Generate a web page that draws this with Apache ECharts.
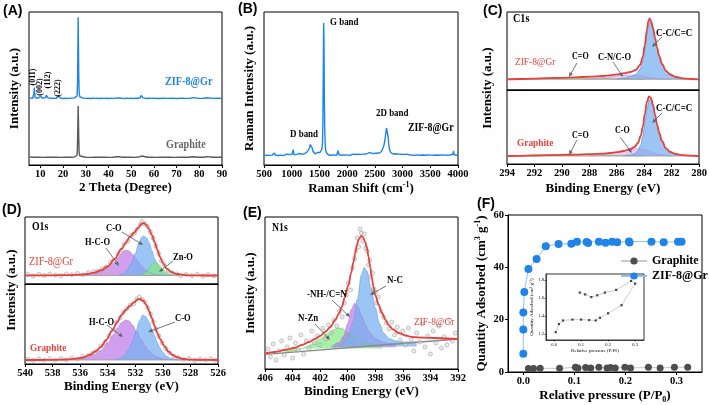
<!DOCTYPE html>
<html><head><meta charset="utf-8">
<script src="https://cdn.jsdelivr.net/npm/echarts@6/dist/echarts.min.js"></script>
<style>html,body{margin:0;padding:0;background:#fff}#c{width:709px;height:405px}</style>
</head><body><div id="c"></div><script>
// ---------------- DATA ----------------
// (A) XRD, intensity in arbitrary units
const aTicks = [10,20,30,40,50,60,70,80,90];
const aZif = [[5.5,66.8],[6,66.5],[6.6,66.7],[7.0,67.5],[7.2,72],[7.35,77.5],[7.5,72],[7.7,67.3],[8.2,66.6],[9,66.8],[9.8,67.2],[10.1,68.8],[10.4,67.5],[10.9,66.7],[11.6,66.9],[12.3,67.4],[12.6,70],[12.8,71.2],[13.0,69.5],[13.3,67.2],[14,66.8],[15,66.6],[16,66.9],[17,66.6],[17.7,67.3],[18.0,69],[18.3,67.4],[19,66.8],[20,66.5],[21,66.8],[22,66.6],[23,66.7],[24,66.9],[25,67.1],[25.8,67.6],[26.2,69],[26.4,85],[26.55,120],[26.65,147.7],[26.75,125],[26.9,92],[27.1,72],[27.4,68],[28,67.2],[29,66.9],[30,66.6],[31,66.7],[32,66.5],[33,66.8],[34,66.6],[35,66.7],[36,66.5],[37,66.8],[38,66.6],[39,66.7],[40,66.5],[41,66.8],[42,66.6],[43,66.7],[44,67.1],[44.5,68.2],[45,67],[46,66.7],[47,66.5],[48,66.7],[49,66.6],[50,66.8],[51,66.5],[52,66.7],[53,66.8],[54,67.2],[54.4,69.5],[54.6,71],[54.8,69],[55.2,67.1],[56,66.7],[57,66.5],[58,66.8],[59,66.6],[60,66.7],[62,66.5],[64,66.8],[66,66.6],[68,66.7],[70,66.5],[72,66.8],[74,66.6],[76,66.7],[77.3,67.4],[77.6,67.9],[78,66.9],[80,66.6],[82,66.7],[83.4,67.3],[83.7,67.8],[84,66.9],[86,66.6],[88,66.8],[90,66.6]];
const aGra = [[5.5,8],[7,7.7],[9,7.9],[11,7.6],[13,7.8],[15,7.7],[17,7.9],[19,7.6],[21,7.8],[23,7.7],[25,8],[25.8,8.5],[26.2,10],[26.4,25],[26.55,45],[26.65,59],[26.75,48],[26.9,28],[27.1,12],[27.4,9],[28,8.2],[30,7.8],[32,7.6],[34,7.8],[36,7.7],[38,7.9],[40,7.6],[42,7.8],[43.8,8.2],[44.4,9.4],[44.8,8.4],[46,7.8],[48,7.7],[50,7.9],[52,7.6],[53.8,8.3],[54.4,10],[54.6,10.4],[54.9,9],[55.4,8],[57,7.7],[59,7.9],[61,7.6],[63,7.8],[65,7.7],[67,7.9],[69,7.6],[71,7.8],[73,7.7],[75,7.8],[77.2,8.3],[77.5,8.8],[77.9,8],[80,7.7],[82,7.8],[83.4,8.4],[83.7,9],[84.1,8],[86,7.8],[88,7.7],[90,7.8]];
const aHkl = ['(011)','(002)','(112)','(222)'];

// (B) Raman
const bRaman = [[500,9.5],[520,10.5],[545,9.8],[570,10.8],[595,9.6],[620,10.4],[645,9.9],[670,10.9],[690,12],[705,9.7],[730,10.3],[755,9.5],[780,10.6],[805,9.9],[830,10.7],[855,9.4],[880,10.2],[905,10.9],[930,9.8],[955,10.5],[980,9.7],[1005,10.8],[1020,12.8],[1030,15.5],[1040,10.2],[1065,9.9],[1090,10.6],[1115,9.6],[1140,11.5],[1160,10.1],[1185,10.8],[1210,10.3],[1235,11.4],[1260,12.2],[1285,13.5],[1305,14.8],[1320,17],[1335,20.5],[1345,22.3],[1355,21],[1370,17],[1385,13.5],[1400,12],[1420,11.2],[1440,11.8],[1460,12.5],[1478,14],[1495,13],[1510,12.5],[1530,13.5],[1545,16],[1555,22],[1563,45],[1570,95],[1576,142],[1582,125],[1588,75],[1595,38],[1603,22],[1612,15],[1625,12.5],[1640,11],[1660,10.3],[1685,10.8],[1710,9.8],[1735,10.6],[1760,10.1],[1785,10.9],[1810,9.7],[1830,11.5],[1840,14.5],[1850,10.4],[1875,10.9],[1900,9.8],[1925,10.5],[1950,10],[1975,10.8],[2000,9.9],[2025,10.6],[2050,9.6],[2075,10.4],[2100,10.9],[2125,9.8],[2150,10.5],[2175,10.1],[2200,10.7],[2225,9.9],[2250,10.6],[2275,10.2],[2300,10.9],[2325,10.4],[2350,11],[2375,10.5],[2400,12.5],[2415,11],[2440,11.8],[2465,13],[2480,11.5],[2505,11],[2530,11.8],[2555,11.3],[2580,12],[2600,12.5],[2620,13.5],[2640,15.5],[2660,19],[2680,24],[2695,31],[2710,37],[2718,39],[2728,36],[2740,28],[2752,20],[2765,15.5],[2780,13],[2800,11.5],[2825,11],[2850,10.5],[2875,11.2],[2900,10.3],[2925,10.9],[2950,10.1],[2975,10.7],[3000,9.9],[3025,10.6],[3050,10.2],[3075,10.9],[3100,11.8],[3115,10.3],[3140,10.8],[3165,10],[3190,10.6],[3215,9.8],[3240,10.5],[3265,10.1],[3290,10.8],[3315,9.7],[3340,10.4],[3365,10],[3390,10.7],[3415,9.8],[3440,10.5],[3465,10.1],[3490,10.8],[3515,9.9],[3540,10.4],[3565,9.7],[3590,10.6],[3615,10],[3640,10.7],[3665,9.8],[3690,10.5],[3715,10.1],[3740,10.8],[3765,9.9],[3790,10.4],[3815,9.7],[3840,10.6],[3865,10],[3890,10.5],[3910,11],[3920,14],[3930,10.2],[3955,10.6],[3980,9.8],[4000,10.3]];

// (C) C1s XPS — envelope (absolute) and component heights above baseline
const c1Base = 10.7;
const c1Env = [[294,10.7],[293,11],[292,11.4],[291,11.8],[290,12.2],[289,12.7],[288,13.3],[287,14],[286.5,14.7],[286,15.6],[285.5,16.7],[285,18],[284.6,20],[284.3,25],[284.1,33],[283.95,45],[283.8,60],[283.7,68.5],[283.6,71.5],[283.5,69],[283.35,62],[283.2,52],[283.05,42],[282.9,34],[282.7,26],[282.4,19],[282.1,15.5],[281.7,13],[281.2,11.6],[280.6,11],[280,10.7]];
const c1CC = [[286,0.3],[285.5,1],[285,2.5],[284.6,5],[284.3,10],[284.1,18],[283.95,30],[283.8,45],[283.7,54],[283.6,58],[283.5,56],[283.35,49],[283.2,40],[283.05,31],[282.9,23],[282.7,15.5],[282.4,8.5],[282.1,5],[281.7,2.5],[281.2,1],[280.6,0.3],[280,0]];
const c1CN = [[288.5,0.2],[288,0.5],[287.5,1],[287,1.7],[286.5,2.6],[286,3.5],[285.5,4.2],[285,4.3],[284.5,3.7],[284,2.7],[283.5,1.6],[283,0.8],[282.5,0.3],[282,0]];
const c1CO = [[294,0],[293,0.3],[292,0.8],[291,1.2],[290,1.5],[289,1.6],[288,1.4],[287,1],[286,0.5],[285,0.2],[284,0]];
const c2Base = 8;
const c2Env = [[294,8],[293,8.2],[292,8.5],[291,8.8],[290,9.1],[289,9.4],[288,9.8],[287,10.4],[286.5,11],[286,11.8],[285.5,13],[285,15],[284.7,17],[284.45,21],[284.25,28],[284.1,37],[283.95,50],[283.8,62],[283.65,67.5],[283.5,66],[283.35,59],[283.2,49],[283.05,39],[282.9,31],[282.7,23],[282.4,15.5],[282.1,12],[281.7,10],[281.2,8.8],[280.6,8.3],[280,8]];
const c2CC = [[285.5,0.3],[285,1],[284.7,2],[284.45,5],[284.25,11],[284.1,20],[283.95,33],[283.8,46],[283.65,56],[283.5,57],[283.35,51],[283.2,41],[283.05,31],[282.9,23],[282.7,15],[282.4,7.5],[282.1,4],[281.7,2],[281.2,0.8],[280.6,0.3],[280,0]];
const c2CO = [[288,0.3],[287.5,0.8],[287,1.5],[286.5,2.5],[286,3.7],[285.5,5],[285,6.3],[284.7,7],[284.45,7.3],[284.2,7],[284,6.3],[283.7,5],[283.4,3.6],[283.1,2.3],[282.8,1.3],[282.4,0.5],[282,0]];
const c2CeqO = [[294,0],[293,0.4],[292,0.9],[291,1.3],[290,1.6],[289,1.6],[288,1.4],[287,0.9],[286,0.5],[285,0.2],[284,0]];

// (D) O1s XPS
const d1Base = 8.5;
const d1Env = [[540,8.6],[539,8.6],[538,8.7],[537,8.9],[536,9.4],[535.5,10],[535,11.3],[534.5,13.5],[534,17.5],[533.5,25],[533,35],[532.7,41],[532.4,47],[532.1,51],[531.8,56],[531.55,60],[531.4,61],[531.2,59],[531,55],[530.8,49],[530.6,42],[530.4,34],[530.2,27],[530,21],[529.7,15],[529.4,12],[529,10],[528.5,9.1],[528,8.7],[527,8.5],[526,8.5]];
const d1HCO = [[536,0.3],[535.5,0.8],[535,1.8],[534.5,3.5],[534,7],[533.5,13],[533.2,18.5],[532.95,23],[532.7,25.5],[532.45,24.5],[532.2,21],[531.9,16],[531.6,10.5],[531.3,6],[531,3],[530.6,1.2],[530.2,0.4],[529.8,0]];
const d1CO = [[533.2,0.3],[532.9,1.5],[532.6,5],[532.3,12],[532,22],[531.75,32],[531.55,38],[531.4,39.5],[531.2,38],[531,33],[530.8,25],[530.6,17],[530.4,10.5],[530.2,5.5],[530,2.5],[529.7,0.8],[529.3,0]];
const d1ZnO = [[531.8,0],[531.5,1],[531.2,3.5],[531,7],[530.8,11],[530.6,13.5],[530.4,12.5],[530.2,9.5],[530,6],[529.8,3.5],[529.5,1.3],[529.1,0.3],[528.7,0]];
const d1Pts = [[539.8,9.5],[539.4,8],[539,9.8],[538.6,8.5],[538.2,10],[537.8,9],[537.4,8.2],[537,10.1],[536.6,9.4],[536.2,10.6],[535.8,9.2],[535.4,11.5],[535,12.5],[534.7,12.8],[534.4,15.2],[534.1,17],[533.8,21.5],[533.5,24],[533.25,30],[533,34],[532.8,40],[532.55,43],[532.3,48.5],[532.05,51],[531.85,55],[531.65,59.5],[531.5,62.5],[531.3,60],[531.1,57.5],[530.9,52],[530.7,46],[530.5,38],[530.3,30.5],[530.1,23],[529.9,18.5],[529.6,13.5],[529.3,11.2],[529,10],[528.7,8.2],[528.3,9.6],[527.9,8.4],[527.5,9.8],[527.1,7.8],[526.7,9.3],[526.3,8.1]];
const d2Base = 4;
const d2Env = [[540,4],[539,4],[538,4.1],[537,4.5],[536.3,5.3],[535.8,6.5],[535.3,9],[534.9,12.5],[534.5,17],[534.1,24],[533.7,33],[533.3,42],[533,49],[532.7,54],[532.4,58],[532.1,61.5],[531.85,64.5],[531.65,65],[531.4,63],[531.2,59],[531,53],[530.8,46],[530.6,38],[530.4,31],[530.2,25],[529.9,18],[529.6,12.5],[529.3,9],[529,6.8],[528.5,5],[528,4.4],[527,4.1],[526,4]];
const d2HCO = [[536.5,0.3],[536,1],[535.5,2.5],[535,5],[534.5,9.5],[534,17],[533.6,25],[533.3,32],[533,37.5],[532.7,40],[532.45,39],[532.2,35],[531.9,28.5],[531.6,21],[531.3,14],[531,8.5],[530.6,4],[530.2,1.8],[529.8,0.7],[529.3,0.2],[528.8,0]];
const d2CO = [[533.4,0.3],[533.1,1.5],[532.8,4.5],[532.5,10.5],[532.2,19],[531.95,29],[531.7,39],[531.45,45],[531.25,43.5],[531,38],[530.8,31],[530.6,24],[530.4,17.5],[530.2,12],[530,7.5],[529.7,3.5],[529.4,1.5],[529,0.4],[528.5,0]];
const d2Pts = [[539.8,4.8],[539.4,3.5],[539,5],[538.6,3.8],[538.2,5.2],[537.8,4],[537.4,5.5],[537,4.3],[536.6,6],[536.2,5],[535.8,7.5],[535.4,8.5],[535.1,11],[534.8,13],[534.5,18],[534.2,21.5],[533.9,28],[533.6,34],[533.35,41.5],[533.1,46],[532.85,52],[532.6,55.5],[532.35,59],[532.1,60.5],[531.9,65],[531.7,67],[531.5,64.5],[531.3,62],[531.1,56.5],[530.9,50],[530.7,42.5],[530.5,35],[530.3,28],[530.05,21],[529.8,15.5],[529.5,11],[529.2,8],[528.9,6.5],[528.5,4.5],[528.1,5.5],[527.7,3.6],[527.3,5],[526.9,4.2],[526.5,5.3],[526.2,3.8]];

// (E) N1s XPS (absolute values, sloped baseline)
const eBase = [[406,14.7],[392,30]];
const eEnv = [[406,15.5],[405.3,17],[404.55,19],[403.9,21],[403.34,24],[402.8,27],[402.37,30],[402,33],[401.64,37],[401.25,42],[400.91,49],[400.65,55],[400.43,62],[400.2,72],[399.95,84],[399.75,96],[399.58,107],[399.45,116],[399.34,124],[399.18,130],[399.03,133],[398.88,131.5],[398.73,127],[398.6,121],[398.49,112],[398.37,102],[398.25,91],[398.13,82],[398.01,74],[397.75,64],[397.52,56],[397.25,49],[397.04,44],[396.7,39.5],[396.31,36],[395.8,33.5],[395.34,32],[394.5,31.3],[393.65,31],[392.8,30.5],[392,30]];
const eNC = [[401,21],[400.5,23.7],[400,31.3],[399.6,46.7],[399.3,70],[399.0,94.4],[398.8,101.6],[398.6,97.8],[398.3,81.1],[398,61.4],[397.7,45.8],[397.4,36.1],[397,30.5],[396.5,28.1],[396,27.1],[395,27.1]];
const eNH = [[401.2,22],[400.6,26.6],[400.3,32.9],[400,45.3],[399.75,59.5],[399.5,65.8],[399.25,62.1],[399,53.4],[398.7,43.7],[398.4,36],[398,30.4],[397.5,27],[397,25.5],[396.5,25.4]];
const eNZn = [[404.5,16.8],[404,17.9],[403.5,19.4],[403,22],[402.5,25.5],[402,30.1],[401.5,35.1],[401,39.2],[400.7,41],[400.4,40.3],[400,36.8],[399.5,31.8],[399,27.9],[398.5,25.4],[398,24.4],[397.5,24.3]];
const ePts = [[405.8,20],[405.6,12],[405.4,25],[405.2,9],[405,18],[404.8,28],[404.6,14],[404.4,22],[404.2,31],[404,11],[403.8,26],[403.6,19],[403.4,34],[403.2,15],[403,28],[402.8,21],[402.6,38],[402.4,26],[402.2,33],[402,24],[401.8,41],[401.6,30],[401.4,44],[401.2,36],[401,49],[400.8,43],[400.6,58],[400.4,52],[400.25,66],[400.1,74],[399.95,86],[399.8,79],[399.65,101],[399.5,110],[399.4,118],[399.3,131],[399.2,122],[399.1,140],[399,136],[398.9,128],[398.8,135],[398.7,121],[398.6,118],[398.5,104],[398.4,109],[398.3,92],[398.2,96],[398.1,80],[398,77],[397.9,66],[397.8,72],[397.6,58],[397.4,52],[397.2,46],[397,40],[396.8,47],[396.6,34],[396.4,42],[396.2,29],[396,38],[395.8,24],[395.6,41],[395.4,30],[395.2,18],[395,36],[394.8,27],[394.6,45],[394.4,22],[394.2,33],[394,15],[393.8,38],[393.6,26],[393.4,43],[393.2,21],[393,32],[392.8,24],[392.6,49],[392.4,28],[392.2,36]];

// (F) N2 adsorption
const fTicks = [0,0.1,0.2,0.3];
const fZif = [[0,7],[0,16.2],[0,22.7],[0.002,30.6],[0.01,39.4],[0.026,43.2],[0.044,48.1],[0.069,48.9],[0.094,49],[0.105,49.8],[0.124,49.7],[0.127,49.3],[0.148,49.8],[0.161,49.4],[0.174,49.8],[0.184,49.6],[0.207,49.9],[0.208,49.5],[0.251,49.8],[0.275,49.6],[0.303,49.8],[0.31,49.8]];
const fGra = [[0.01,1.3],[0.02,1.3],[0.033,1.4],[0.071,1.4],[0.102,1.8],[0.107,1.5],[0.122,1.7],[0.132,1.5],[0.148,1.8],[0.164,1.5],[0.171,1.7],[0.18,1.5],[0.199,1.8],[0.21,1.5],[0.245,1.8],[0.268,1.5],[0.296,1.8],[0.322,1.8]];
const insXTicks = [0,0.1,0.2,0.3];
const insYTicks = [1.2,1.4,1.6,1.8];
const fInset = [[0.006,1.22],[0.018,1.31],[0.033,1.35],[0.068,1.36],[0.1,1.36],[0.13,1.355],[0.154,1.35],[0.17,1.38],[0.2,1.43],[0.25,1.52],[0.3,1.76],[0.285,1.79],[0.23,1.69],[0.188,1.66],[0.16,1.63],[0.138,1.61],[0.115,1.64],[0.095,1.66]];

// ---------------- STYLE / BUILD ----------------
const SERIF = '"Liberation Serif","Times New Roman",serif';
const SANS = '"Liberation Sans",Arial,sans-serif';
const RED = '#e8413c', BLUE = '#1e84ec', GRAY = '#5a5a5a';
const F_BLUE = 'rgba(120,178,240,0.75)', F_VIO = 'rgba(185,115,230,0.68)',
      F_GRN = 'rgba(130,235,130,0.72)', F_PINK = 'rgba(225,165,235,0.62)';
const lift = (arr, b) => arr.map(p => [p[0], p[1] + b]);
const plain = v => v.toFixed(0);

function G(l,t,w,h,bw,bg){return {left:l,top:t,width:w,height:h,show:true,borderColor:'#000',borderWidth:bw||1,backgroundColor:bg||'transparent',outerBoundsMode:'none'};}
const titleStyle = {fontFamily:SERIF,fontWeight:'bold',fontSize:13,color:'#000'};
function X(gi,min,max,o){o=o||{};const lab=o.lab!==false;
  const al={show:lab,color:'#000',fontFamily:SERIF,fontWeight:o.fw||'bold',fontSize:o.fs||10.5,margin:o.mg||4,formatter:o.fmt||plain};
  if(o.cv) al.customValues=o.cv;
  const at={show:lab,inside:false,length:o.tl||3,lineStyle:{color:'#000',width:o.lw||1}};
  if(o.cv) at.customValues=o.cv;
  const ax={type:'value',gridIndex:gi,min,max,inverse:!!o.inv,
  axisLine:{show:true,onZero:false,lineStyle:{color:'#000',width:o.lw||1}},axisTick:at,axisLabel:al,
  splitLine:{show:false},nameLocation:'middle',nameGap:o.ng||16,nameTextStyle:o.nts||titleStyle};
  if(o.iv) ax.interval=o.iv; if(o.name) ax.name=o.name; return ax;}
function Y(gi,min,max,o){o=o||{};
  const ax={type:'value',gridIndex:gi,min,max,
  axisLine:{show:!!o.lab,onZero:false,lineStyle:{color:'#000',width:o.lw||1}},
  axisTick:{show:!!o.lab,length:o.tl||3,lineStyle:{color:'#000',width:o.lw||1}},
  axisLabel:{show:false},splitLine:{show:false},nameLocation:'middle',nameGap:o.ng||8,nameRotate:90,nameTextStyle:o.nts||titleStyle};
  if(o.lab){ax.axisLabel={show:true,color:'#000',fontFamily:SERIF,fontWeight:o.fw||'bold',fontSize:o.fs||10.5,margin:o.mg||4,formatter:o.fmt||plain};
    if(o.cv){ax.axisLabel.customValues=o.cv;ax.axisTick.customValues=o.cv;}}
  if(o.iv) ax.interval=o.iv; if(o.name) ax.name=o.name; return ax;}

function ln(i,data,color,w,extra){return Object.assign({type:'line',xAxisIndex:i,yAxisIndex:i,data,showSymbol:false,symbol:'none',lineStyle:{color,width:w},silent:true,z:3},extra||{});}
function env(i,data){return ln(i,data,RED,1.8,{smooth:0.35,smoothMonotone:'x',z:6});}
function comp(i,data,fill,stroke,origin){return ln(i,data,stroke,0.6,{smooth:0.35,smoothMonotone:'x',areaStyle:{color:fill,origin,opacity:1},z:2});}
function pts(i,data){return {type:'scatter',xAxisIndex:i,yAxisIndex:i,data,symbolSize:4,silent:true,itemStyle:{color:'rgba(215,215,215,0.55)',borderColor:'#9a9a9a',borderWidth:0.7},z:4};}

function T(x,y,text,o){o=o||{};return {type:'text',x,y,scaleX:o.sx===undefined?0.85:o.sx,rotation:o.rot||0,z:20,
  style:{text,fill:o.c||'#000',font:(o.w||'bold')+' '+(o.s||10.5)+'px '+(o.f||SERIF),align:o.a||'left',verticalAlign:'middle',textAlign:o.a||'left',textVerticalAlign:'middle'}};}
function AR(x1,y1,x2,y2){const g=Math.atan2(y2-y1,x2-x1),L=4.5,W=2,bx=x2-L*Math.cos(g),by=y2-L*Math.sin(g);
  return [{type:'line',z:20,shape:{x1,y1,x2:bx,y2:by},style:{stroke:'#666',lineWidth:0.9}},
          {type:'polygon',z:20,shape:{points:[[x2,y2],[bx+W*Math.sin(g),by-W*Math.cos(g)],[bx-W*Math.sin(g),by+W*Math.cos(g)]]},style:{fill:'#666'}}];}

const supRich = {a:{fontFamily:SERIF,fontWeight:'bold',fontSize:13,color:'#000',lineHeight:16},
  s:{fontFamily:SERIF,fontWeight:'bold',fontSize:8,color:'#000',verticalAlign:'top',lineHeight:16},
  b:{fontFamily:SERIF,fontWeight:'bold',fontSize:8,color:'#000',verticalAlign:'bottom',lineHeight:16}};
const insRich = {a:{fontFamily:SERIF,fontSize:5,color:'#000',lineHeight:6},
  s:{fontFamily:SERIF,fontSize:3.5,color:'#000',verticalAlign:'top',lineHeight:6},
  b:{fontFamily:SERIF,fontSize:3.5,color:'#000',verticalAlign:'bottom',lineHeight:6}};

const option = {
  animation:false, backgroundColor:'#fff',
  grid:[G(29,12,193,153),G(264,12,194,153),G(507,12,192,78),G(507,90,192,74),
        G(25,217,193,67),G(25,284,193,80),G(265,217,193,152),G(508,215,194,157),G(546,274,98,66,0.8,'#fff')],
  xAxis:[
    X(0,5,90,{cv:aTicks,name:'2 Theta (Degree)'}),
    X(1,500,4000,{iv:500,name:'{a|Raman Shift (cm}{s|-1}{a|)}',nts:{rich:supRich}}),
    X(2,280,294,{inv:true,iv:2,lab:false}),
    X(3,280,294,{inv:true,iv:2,name:'Binding Energy (eV)',ng:18}),
    X(4,526,540,{inv:true,iv:2,lab:false}),
    X(5,526,540,{inv:true,iv:2,name:'Binding Energy (eV)'}),
    X(6,392,406,{inv:true,iv:2,name:'Binding Energy (eV)'}),
    X(7,-0.03,0.35,{cv:fTicks,fmt:v=>v.toFixed(1),name:'{a|Relative pressure (P/P}{b|0}{a|)}',nts:{rich:supRich},ng:16}),
    X(8,-0.03,0.333,{cv:insXTicks,fmt:v=>v.toFixed(1),fs:4.5,fw:'normal',mg:2,tl:1.5,lw:0.6,name:'{a|Relative pressure (P/P}{b|0}{a|)}',nts:{rich:insRich},ng:7})
  ],
  yAxis:[
    Y(0,0,153,{name:'Intensity (a.u.)',ng:8}),
    Y(1,0,153,{name:'Raman Intensity (a.u.)',ng:8}),
    Y(2,0,78),Y(3,0,74),Y(4,0,67),Y(5,0,80),
    Y(6,0,152,{name:'Intensity (a.u.)',ng:8}),
    Y(7,0,60,{lab:true,iv:20,name:'{a|Quantity Adsorbed (cm}{s|3}{a| g}{s|-1}{a|)}',nts:{rich:supRich},ng:18}),
    Y(8,1.133,1.867,{lab:true,cv:insYTicks,fmt:v=>v.toFixed(1),fs:4.5,fw:'normal',mg:2,tl:1.5,lw:0.6,name:'{a|Quantity Adsorbed (cm}{s|3}{a| g}{s|-1}{a|)}',nts:{rich:insRich},ng:9})
  ],
  legend:{data:['Graphite','ZIF-8@Gr'],left:615,top:250,orient:'vertical',itemGap:3,itemWidth:26,itemHeight:9,
    textStyle:{fontFamily:SERIF,fontWeight:'bold',fontSize:12,color:'#000'}},
  series:[
    ln(0,aZif,BLUE,1.4), ln(0,aGra,GRAY,1.4),
    ln(1,bRaman,BLUE,1.4),
    // C upper
    comp(2,lift(c1CO,c1Base),F_GRN,'#6cc66c',c1Base),
    comp(2,lift(c1CN,c1Base),F_PINK,'#c58ad6',c1Base),
    comp(2,lift(c1CC,c1Base),F_BLUE,'#3f8fe0',c1Base),
    ln(2,[[294,c1Base],[280,c1Base]],'#9a9a9a',0.8),
    env(2,c1Env),
    // C lower
    comp(3,lift(c2CeqO,c2Base),F_GRN,'#6cc66c',c2Base),
    comp(3,lift(c2CO,c2Base),F_PINK,'#c58ad6',c2Base),
    comp(3,lift(c2CC,c2Base),F_BLUE,'#3f8fe0',c2Base),
    ln(3,[[294,c2Base],[280,c2Base]],'#9a9a9a',0.8),
    env(3,c2Env),
    // D upper
    comp(4,lift(d1HCO,d1Base),F_VIO,'#b07ad8',d1Base),
    comp(4,lift(d1CO,d1Base),F_BLUE,'#5f9fe6',d1Base),
    comp(4,lift(d1ZnO,d1Base),F_GRN,'#6cc66c',d1Base),
    ln(4,[[540,d1Base],[526,d1Base]],'#9a9a9a',0.8),
    pts(4,d1Pts), env(4,d1Env),
    // D lower
    comp(5,lift(d2HCO,d2Base),F_VIO,'#b07ad8',d2Base),
    comp(5,lift(d2CO,d2Base),F_BLUE,'#5f9fe6',d2Base),
    ln(5,[[540,d2Base],[526,d2Base]],'#9a9a9a',0.8),
    pts(5,d2Pts), env(5,d2Env),
    // E
    comp(6,eNZn,F_GRN,'#6cc66c',20.4),
    comp(6,eNH,F_VIO,'#b07ad8',21.8),
    comp(6,eNC,F_BLUE,'#5f9fe6',22.6),
    ln(6,eBase,'#8a8a8a',1.3),
    pts(6,ePts), env(6,eEnv),
    // F
    {type:'line',name:'Graphite',xAxisIndex:7,yAxisIndex:7,data:fGra,symbol:'circle',symbolSize:7,itemStyle:{color:'#4d4d4d'},lineStyle:{color:'#c8c8c8',width:1},z:3},
    {type:'line',name:'ZIF-8@Gr',xAxisIndex:7,yAxisIndex:7,data:fZif,symbol:'circle',symbolSize:8,itemStyle:{color:'#1f83ea'},lineStyle:{color:'#8fc3f5',width:1},z:3},
    {type:'line',xAxisIndex:8,yAxisIndex:8,data:fInset,symbol:'rect',symbolSize:2.2,itemStyle:{color:'#444'},lineStyle:{color:'#c0c0c0',width:0.8},z:5}
  ],
  graphic:{elements:[
    T(3,11,'(A)',{f:SANS,s:14,sx:1}), T(238,9,'(B)',{f:SANS,s:14,sx:1}), T(483,11,'(C)',{f:SANS,s:14,sx:1}),
    T(2,210,'(D)',{f:SANS,s:14,sx:1}), T(243,213,'(E)',{f:SANS,s:14,sx:1}), T(477,204,'(F)',{f:SANS,s:14,sx:1}),
    // A
    T(33,77,aHkl[0],{s:8,rot:Math.PI/2,a:'center',sx:1}), T(40,87,aHkl[1],{s:8,rot:Math.PI/2,a:'center',sx:1}),
    T(48,80,aHkl[2],{s:8,rot:Math.PI/2,a:'center',sx:1}), T(58,88,aHkl[3],{s:8,rot:Math.PI/2,a:'center',sx:1}),
    T(165,82,'ZIF-8@Gr',{c:BLUE,s:12}), T(166,145,'Graphite',{c:'#666',s:12}),
    // B
    T(330,22,'G band'), T(290,134,'D band'), T(376,113,'2D band'), T(408,128,'ZIF-8@Gr',{s:11.5}),
    // C
    T(513,19,'C1s',{s:12}), T(656,33,'C-C/C=C'), T(515,62,'ZIF-8@Gr',{c:RED,w:'normal',s:11}),
    T(572,57,'C=O',{s:9.5}), T(598,57,'C-N/C-O',{s:10}),
    T(656,108,'C-C/C=C'), T(517,143,'Graphite',{c:RED,s:11}), T(572,136,'C=O',{s:9.5}), T(615,131,'C-O',{s:9.5}),
    T(488,88,'Intensity (a.u.)',{s:13,rot:Math.PI/2,a:'center',sx:1}),
    ...AR(662,37,652,47), ...AR(577,63,569,77), ...AR(613,62,623,77),
    ...AR(662,113,652,123), ...AR(577,140,569,155), ...AR(620,137,632,153),
    // D
    T(32,227,'O1s',{s:11.5}), T(106,228,'C-O',{s:10}), T(85,242,'H-C-O',{s:10}),
    T(29,262,'ZIF-8@Gr',{c:RED,w:'normal',s:12}), T(173,257,'Zn-O',{s:10}),
    T(89,322,'H-C-O',{s:10}), T(175,318,'C-O',{s:10}), T(30,348,'Graphite',{c:RED,s:11}),
    T(12,290,'Intensity (a.u.)',{s:13,rot:Math.PI/2,a:'center',sx:1}),
    ...AR(122,232,143,245), ...AR(106,248,119,266), ...AR(173,261,159,272),
    ...AR(107,325,123,337), ...AR(175,322,148,332),
    // E
    T(272,228,'N1s',{s:11.5}), T(387,280,'N-C',{s:10.5}), T(307,294,'-NH-/C=N',{s:10.5}),
    T(298,318,'N-Zn',{s:10.5}), T(414,322,'ZIF-8@Gr',{c:RED,w:'normal',s:11}),
    ...AR(386,286,370,295), ...AR(332,300,350,317), ...AR(315,324,330,340)
  ]}
};
const chart = echarts.init(document.getElementById('c'), null, {renderer:'canvas', width:709, height:405});
chart.setOption(option);
</script></body></html>
